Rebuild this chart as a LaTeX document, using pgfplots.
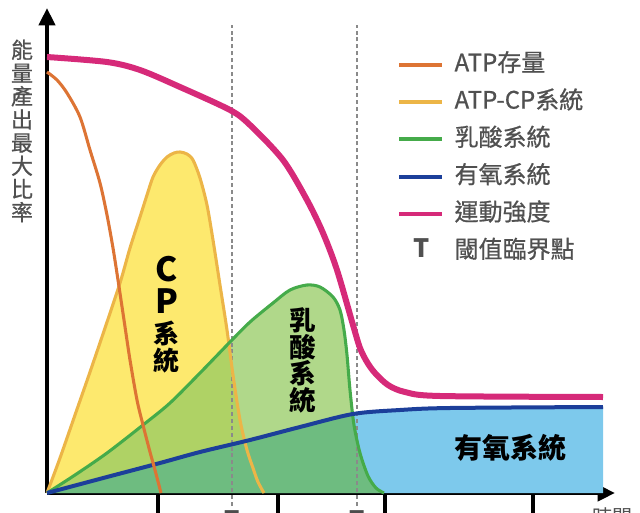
\documentclass[border=0pt]{standalone}
\usepackage{fontspec}
\setmainfont{Noto Sans CJK TC}
\newfontfamily\medfont[FakeBold=0.7]{Noto Sans CJK TC}
\usepackage{pgfplots}
\pgfplotsset{compat=1.18}
\usepgfplotslibrary{fillbetween}
\usetikzlibrary{arrows.meta}

\definecolor{cATP}{HTML}{DD7434}
\definecolor{cCPline}{HTML}{ECB547}
\definecolor{cCPfill}{HTML}{FDE96E}
\definecolor{cLacline}{HTML}{45AB4A}
\definecolor{cLacfill}{RGB}{97,177,21}
\definecolor{cAerofill}{HTML}{7DC9EC}
\definecolor{cAeroline}{HTML}{1C3F9A}
\definecolor{cPink}{HTML}{D62A79}
\definecolor{cText}{HTML}{505050}
\definecolor{cDash}{HTML}{8A8A8A}

\pgfplotstableread{
x y
0 0
13 35
28 78
43 121
58 165
73 210
83 245
93 276
100 298
106 316
113 328
120 336
127 340
133 341
140 339
146 333
153 315
160 288
166 253
173 208
180 163
186 118
193 73
200 43
206 25
211 11
217 0
}\cpdata
\pgfplotstableread{
x y
0 0
28 18
60 40
96 68
123 90
153 120
183 151
203 171
226 190
243 203
260 208
273 206
286 196
293 183
297 163
300 138
303 103
307 68
313 40
321 17
329 5
337 0
}\lacdata
\pgfplotstableread{
x y
0 0
60 16
113 30
153 41
203 53
253 66
306 79
353 83
403 85
556 86
}\aerodata
\pgfplotstableread{
x y
0 421
10 413
20 400
33 376
43 343
53 310
60 278
66 245
71 213
77 173
83 133
90 93
96 68
103 41
108 23
114 0
}\atpdata
\pgfplotstableread{
x y
0 436
60 431
93 423
133 406
183 383
203 368
236 333
260 293
276 260
290 223
306 168
313 145
320 131
328 120
341 108
358 101
393 97
556 96
}\intdata

\begin{document}
\begin{tikzpicture}
\begin{axis}[
  x=0.75pt, y=0.75pt,
  xmin=0, xmax=568, ymin=0, ymax=485,
  axis lines=left,
  axis line style={line width=3pt, black, -{Triangle[length=13pt,width=12pt]}},
  xtick={111,231,338,486}, ytick=\empty,
  xticklabels={},
  tick align=outside,
  major tick length=22pt,
  xtick style={line width=3pt, black},
  clip=false,
  legend cell align=left,
  legend style={draw=none, fill=none, at={(axis cs:350,440)}, anchor=north west,
    inner sep=0pt, row sep=11pt, font=\medfont\fontsize{18}{18}\selectfont, text=cText,
    nodes={inner sep=0pt, text height=13.5pt, text depth=3.5pt, anchor=west},
    /tikz/every odd column/.append style={column sep=8pt}},
  legend image code/.code={\draw[#1] (0pt,0pt) -- (32pt,0pt);},
]
% legend
\addlegendimage{cATP, line width=3pt}
\addlegendentry{ATP存量}
\addlegendimage{cCPline, line width=3pt}
\addlegendentry{ATP-CP系統}
\addlegendimage{cLacline, line width=3pt}
\addlegendentry{乳酸系統}
\addlegendimage{cAeroline, line width=3pt}
\addlegendentry{有氧系統}
\addlegendimage{cPink, line width=3pt}
\addlegendentry{運動強度}
\addlegendimage{legend image code/.code={\path (0pt,0pt) (32pt,0pt);
  \node[font=\bfseries\fontsize{19}{19}\selectfont, text=cText, inner sep=0pt, anchor=center] at (17pt,0pt) {T};}}
\addlegendentry{閾值臨界點}

% named curves for the overlap fills
\addplot[forget plot, smooth, draw=none, name path=cp] table {\cpdata};
\addplot[forget plot, smooth, draw=none, name path=lac] table {\lacdata};
\addplot[forget plot, smooth, draw=none, name path=aero] table {\aerodata};

% fills
\addplot[forget plot, smooth, draw=none, fill=cAerofill] table {\aerodata} \closedcycle;
\addplot[forget plot, smooth, draw=none, fill=cLacfill, fill opacity=0.5] table {\lacdata} \closedcycle;
\addplot[forget plot, draw=none, fill=cCPfill, fill opacity=0.5] fill between[of=cp and aero, soft clip={domain=0:198}];
\addplot[forget plot, draw=none, fill=cCPfill] fill between[of=cp and lac, soft clip={domain=0:181.5}];

% threshold lines
\addplot[forget plot, cDash, line width=0.9pt, dash pattern=on 3pt off 2.2pt] coordinates {(185,-13) (185,468)};
\addplot[forget plot, cDash, line width=0.9pt, dash pattern=on 3pt off 2.2pt] coordinates {(310,-13) (310,468)};

% outlines
\addplot[forget plot, smooth, cCPline, line width=2.3pt] table {\cpdata};
\addplot[forget plot, smooth, cLacline, line width=2.3pt] table {\lacdata};
\addplot[forget plot, smooth, cAeroline, line width=3pt] table {\aerodata};
\addplot[forget plot, smooth, cATP, line width=2.3pt] table {\atpdata};
\addplot[forget plot, smooth, cPink, line width=4.5pt] table {\intdata};

% labels
\node[text=cText, font=\medfont\fontsize{16.5}{17.4}\selectfont, align=center, inner sep=0pt]
  at (axis cs:-25,362) {能\\量\\產\\出\\最\\大\\比\\率};
\node[font=\bfseries\fontsize{25}{25}\selectfont, inner sep=0pt] at (axis cs:120,224) {C};
\node[font=\bfseries\fontsize{25}{25}\selectfont, inner sep=0pt] at (axis cs:120,192) {P};
\node[font=\bfseries\fontsize{19.5}{19.5}\selectfont, inner sep=0pt] at (axis cs:120,160) {系};
\node[font=\bfseries\fontsize{19.5}{19.5}\selectfont, inner sep=0pt] at (axis cs:120,132) {統};
\node[font=\bfseries\fontsize{20}{20}\selectfont, inner sep=0pt] at (axis cs:256,173) {乳};
\node[font=\bfseries\fontsize{20}{20}\selectfont, inner sep=0pt] at (axis cs:256,146) {酸};
\node[font=\bfseries\fontsize{20}{20}\selectfont, inner sep=0pt] at (axis cs:256,120) {系};
\node[font=\bfseries\fontsize{20}{20}\selectfont, inner sep=0pt] at (axis cs:256,93) {統};
\node[font=\bfseries\fontsize{21}{21}\selectfont, inner sep=0pt] at (axis cs:463,45) {有氧系統};
\node[font=\bfseries\fontsize{18}{18}\selectfont, text=black!70, anchor=north, inner sep=0pt] at (axis cs:185,-17) {T};
\node[font=\bfseries\fontsize{18}{18}\selectfont, text=black!70, anchor=north, inner sep=0pt] at (axis cs:310,-17) {T};
\node[font=\fontsize{15}{15}\selectfont, text=cText, anchor=north west, inner sep=0pt] at (axis cs:545,-14) {時間};

\coordinate (bbA) at (axis cs:-47,-19);
\coordinate (bbB) at (axis cs:593,493);
\end{axis}
\pgfresetboundingbox
\path[use as bounding box] (bbA) rectangle (bbB);
\end{tikzpicture}
\end{document}
